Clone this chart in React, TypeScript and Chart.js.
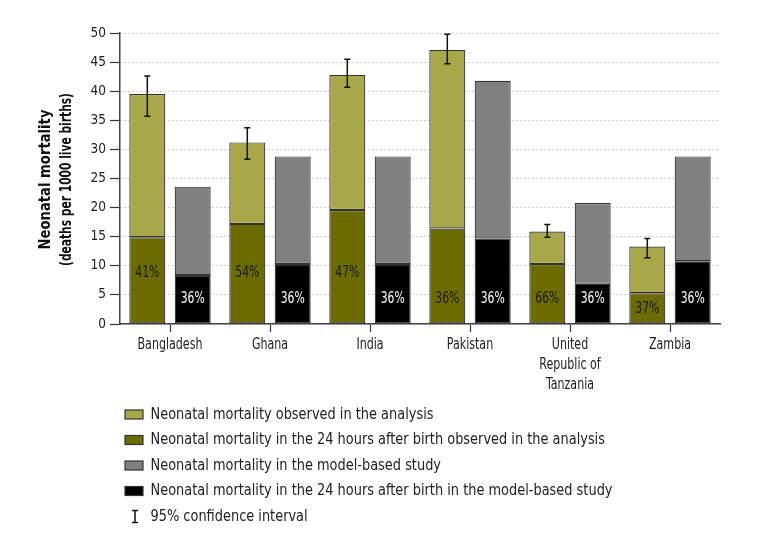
import React, { useEffect, useRef } from "react";
import { Chart, registerables } from "chart.js";

Chart.register(...registerables);

const countries: (string | string[])[] = [
  "Bangladesh",
  "Ghana",
  "India",
  "Pakistan",
  ["United", "Republic of", "Tanzania"],
  "Zambia",
];
const observedTotal = [39.5, 31.2, 42.8, 47.1, 15.9, 13.3];
const observed24h = [14.9, 17.2, 19.6, 16.4, 10.3, 5.3];
const ciLow = [35.7, 28.3, 40.7, 44.7, 14.9, 11.4];
const ciHigh = [42.6, 33.7, 45.5, 49.8, 17.1, 14.7];
const modelTotal = [23.6, 28.8, 28.8, 41.8, 20.8, 28.8];
const model24h = [8.4, 10.3, 10.3, 14.7, 6.9, 10.8];
const observedPct = ["41%", "54%", "47%", "36%", "66%", "37%"];
const modelPct = ["36%", "36%", "36%", "36%", "36%", "36%"];
const observedPctAt = [8.8, 8.8, 8.8, 4.3, 4.3, 2.6];
const modelPctAt = [4.3, 4.3, 4.3, 4.3, 4.3, 4.3];
const yTicks = [0, 5, 10, 15, 20, 25, 30, 35, 40, 45, 50];
const yTitle = ["Neonatal mortality", "(deaths per 1000 live births)"];
const legendItems = [
  "Neonatal mortality observed in the analysis",
  "Neonatal mortality in the 24 hours after birth observed in the analysis",
  "Neonatal mortality in the model-based study",
  "Neonatal mortality in the 24 hours after birth in the model-based study",
  "95% confidence interval",
];

const FONT = "'DejaVu Sans Condensed', 'DejaVu Sans', sans-serif";
const C_LIGHT = "#a8a84a";
const C_DARK = "#6b6b00";
const C_GREY = "#808080";
const C_BLACK = "#000000";
const BORDER = "#333333";

function fillSqueezed(ctx: CanvasRenderingContext2D, text: string, x: number, y: number, sx: number) {
  ctx.save();
  ctx.translate(x, y);
  ctx.scale(sx, 1);
  ctx.fillText(text, 0, 0);
  ctx.restore();
}

const overlayPlugin = {
  id: "overlay",
  afterDatasetsDraw(chart: any) {
    const { ctx } = chart;
    const y = chart.scales.y;
    const metaLight = chart.getDatasetMeta(1);
    const metaDark = chart.getDatasetMeta(0);
    const metaBlack = chart.getDatasetMeta(2);
    ctx.save();
    ctx.strokeStyle = "#111";
    ctx.lineWidth = 1.5;
    metaLight.data.forEach((bar: any, i: number) => {
      const x = bar.x;
      const y1 = y.getPixelForValue(ciLow[i]);
      const y2 = y.getPixelForValue(ciHigh[i]);
      ctx.beginPath();
      ctx.moveTo(x, y1);
      ctx.lineTo(x, y2);
      ctx.moveTo(x - 3, y1);
      ctx.lineTo(x + 3, y1);
      ctx.moveTo(x - 3, y2);
      ctx.lineTo(x + 3, y2);
      ctx.stroke();
    });
    ctx.font = `16.5px ${FONT}`;
    ctx.textAlign = "center";
    ctx.textBaseline = "middle";
    const sx = 24 / ctx.measureText("41%").width;
    metaDark.data.forEach((bar: any, i: number) => {
      ctx.fillStyle = "#1a1a1a";
      fillSqueezed(ctx, observedPct[i], bar.x, y.getPixelForValue(observedPctAt[i]), sx);
    });
    metaBlack.data.forEach((bar: any, i: number) => {
      ctx.fillStyle = "#ffffff";
      fillSqueezed(ctx, modelPct[i], bar.x, y.getPixelForValue(modelPctAt[i]), sx);
    });
    ctx.restore();
  },
  afterDraw(chart: any) {
    const { ctx, chartArea } = chart;
    const xs = chart.scales.x;

    // x category labels (condensed)
    ctx.save();
    ctx.fillStyle = "#222";
    ctx.font = `16.5px ${FONT}`;
    ctx.textAlign = "center";
    ctx.textBaseline = "middle";
    const sxX = 65 / ctx.measureText("Bangladesh").width;
    (chart.data.labels as any[]).forEach((lab: any, i: number) => {
      const lines = Array.isArray(lab) ? lab : [lab];
      const px = xs.getPixelForValue(i);
      lines.forEach((ln: string, k: number) => {
        fillSqueezed(ctx, ln, px, chartArea.bottom + 21 + k * 20, sxX);
      });
    });
    ctx.restore();

    // y title
    ctx.save();
    ctx.fillStyle = "#111";
    ctx.font = `bold 16px ${FONT}`;
    ctx.textAlign = "center";
    ctx.textBaseline = "middle";
    const s1 = 140 / ctx.measureText(yTitle[0]).width;
    const s2 = 173 / ctx.measureText(yTitle[1]).width;
    const cy = (chartArea.top + chartArea.bottom) / 2 + 1;
    ctx.translate(46, cy);
    ctx.rotate(-Math.PI / 2);
    fillSqueezed(ctx, yTitle[0], 0, 0, s1);
    fillSqueezed(ctx, yTitle[1], 0, 21, s2);
    ctx.restore();

    // legend
    ctx.save();
    const colors = [C_LIGHT, C_DARK, C_GREY, C_BLACK];
    ctx.font = `15.5px ${FONT}`;
    ctx.textBaseline = "middle";
    ctx.textAlign = "left";
    const sxL = 462 / ctx.measureText(legendItems[3]).width;
    legendItems.forEach((txt, i) => {
      const cyL = 414.5 + i * 25.5;
      if (i < 4) {
        ctx.fillStyle = colors[i];
        ctx.fillRect(125, cyL - 4.5, 18, 9);
        ctx.strokeStyle = BORDER;
        ctx.lineWidth = 1.2;
        ctx.strokeRect(125, cyL - 4.5, 18, 9);
      } else {
        ctx.strokeStyle = "#111";
        ctx.lineWidth = 1.5;
        ctx.beginPath();
        ctx.moveTo(135, cyL - 6);
        ctx.lineTo(135, cyL + 6);
        ctx.moveTo(132, cyL - 6);
        ctx.lineTo(138, cyL - 6);
        ctx.moveTo(132, cyL + 6);
        ctx.lineTo(138, cyL + 6);
        ctx.stroke();
      }
      ctx.fillStyle = "#222";
      fillSqueezed(ctx, txt, 150.5, cyL, sxL);
    });
    ctx.restore();
  },
};

export default function App() {
  const ref = useRef<HTMLCanvasElement>(null);
  useEffect(() => {
    document.body.style.margin = "0";
    document.body.style.overflow = "hidden";
    const obsRest = observedTotal.map((v, i) => +(v - observed24h[i]).toFixed(2));
    const modelRest = modelTotal.map((v, i) => +(v - model24h[i]).toFixed(2));
    const common = {
      borderColor: BORDER,
      borderWidth: 1.2,
      borderSkipped: false,
      categoryPercentage: 0.908,
      barPercentage: 0.793,
    };
    const chart = new Chart(ref.current as HTMLCanvasElement, {
      type: "bar",
      data: {
        labels: countries as any,
        datasets: [
          { label: legendItems[1], data: observed24h, backgroundColor: C_DARK, stack: "obs", ...common } as any,
          { label: legendItems[0], data: obsRest, backgroundColor: C_LIGHT, stack: "obs", ...common } as any,
          { label: legendItems[3], data: model24h, backgroundColor: C_BLACK, stack: "model", ...common } as any,
          { label: legendItems[2], data: modelRest, backgroundColor: C_GREY, stack: "model", ...common } as any,
        ],
      },
      options: {
        animation: false,
        responsive: false,
        maintainAspectRatio: false,
        layout: { padding: { top: 33, right: 51, left: 0, bottom: 0 } },
        plugins: { legend: { display: false }, tooltip: { enabled: false } },
        scales: {
          x: {
            stacked: true,
            afterFit: (s: any) => {
              s.height = 224;
            },
            grid: {
              display: true,
              drawOnChartArea: false,
              drawTicks: true,
              offset: false,
              tickLength: 8,
              tickColor: "#333",
              tickWidth: 1.2,
            },
            border: { display: true, color: "#444", width: 1.5 },
            ticks: {
              display: false,
              autoSkip: false,
              maxRotation: 0,
            },
          },
          y: {
            stacked: true,
            min: 0,
            max: 50,
            afterFit: (s: any) => {
              s.width = 120;
            },
            afterBuildTicks: (s: any) => {
              s.ticks = yTicks.map((v) => ({ value: v }));
            },
            grid: {
              color: "#9a9a9a",
              lineWidth: 1,
              tickLength: 10,
              tickColor: "#333",
              tickWidth: 1.2,
              tickBorderDash: [],
            },
            border: { display: true, color: "#444", width: 1.5, dash: [1, 3] },
            ticks: {
              color: "#222",
              padding: 4,
              font: { family: FONT, size: 13.5 },
            },
          },
        },
      },
      plugins: [overlayPlugin],
    });
    return () => chart.destroy();
  }, []);
  return (
    <div style={{ width: 771, height: 548 }}>
      <canvas ref={ref} width={771} height={548} style={{ display: "block" }} />
    </div>
  );
}
